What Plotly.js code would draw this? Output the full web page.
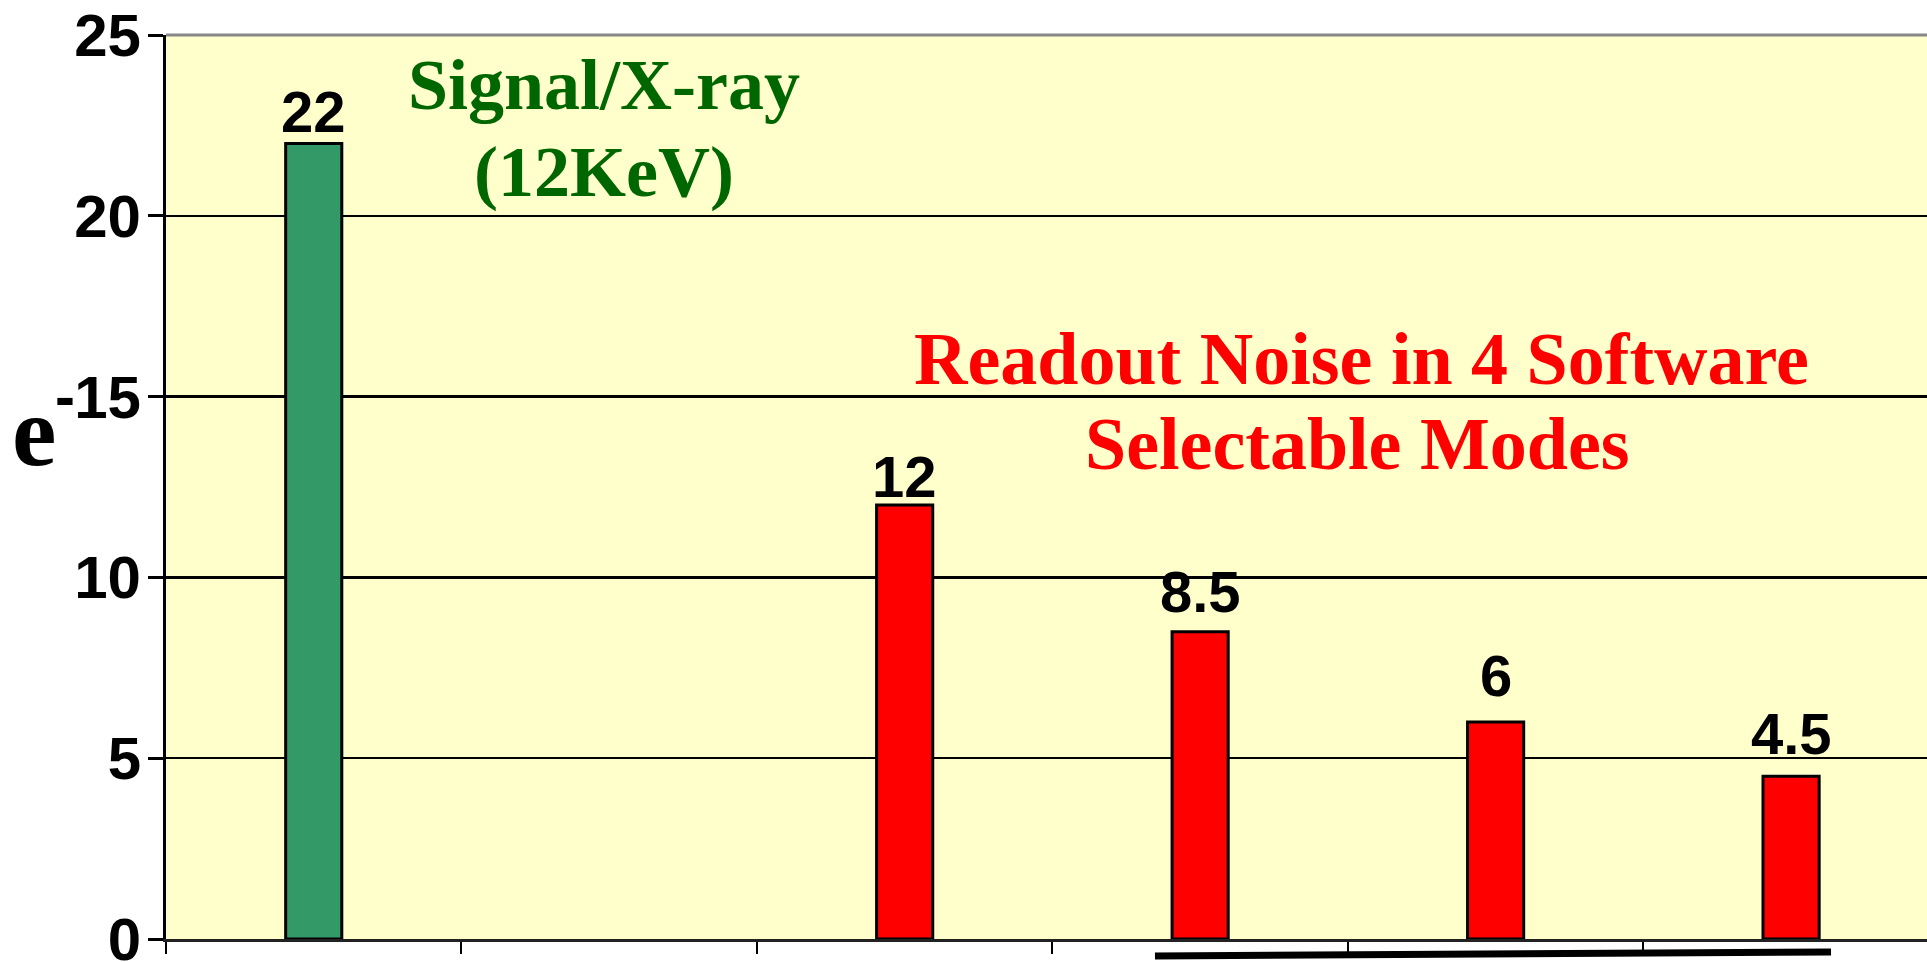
<!DOCTYPE html>
<html>
<head>
<meta charset="utf-8">
<script src="https://cdn.plot.ly/plotly-3.0.1.min.js"></script>
<style>html,body{margin:0;padding:0;background:#fff;}#chart{width:1927px;height:962px;}</style>
</head>
<body>
<div id="chart"></div>
<script>
// Data
const categories = ["Signal/X-ray (12KeV)", "(gap)", "Mode 1", "Mode 2", "Mode 3", "Mode 4"];
const values = [22, null, 12, 8.5, 6, 4.5];
const barColors = ["#339966", "#FF0000", "#FF0000", "#FF0000", "#FF0000", "#FF0000"];
const yTicks = [0, 5, 10, 15, 20, 25];
const signalLabel = ["Signal/X-ray", "(12KeV)"];
const noiseLabel = ["Readout Noise in 4 Software", "Selectable Modes"];
const yTitle = "e";
const yTitleSup = "-";

// Styling: small vertical nudges (px) of each value label, as placed in the original
const labelNudge = [-3, 0, -6, 6, 12, 8];

const sans = "Arial, 'Liberation Sans', sans-serif";
const serif = "'Times New Roman', 'Liberation Serif', serif";

const trace = {
  type: "bar",
  x: categories,
  y: values,
  width: 0.19,
  marker: {color: barColors, line: {color: "#000", width: 3}},
  cliponaxis: false,
  hoverinfo: "none"
};

const valueAnnotations = [];
categories.forEach((c, i) => {
  if (values[i] === null) return;
  valueAnnotations.push({
    text: String(values[i]), xref: "x", yref: "y", x: c, y: values[i],
    xanchor: "center", yanchor: "bottom", yshift: labelNudge[i], showarrow: false,
    font: {family: sans, size: 58, color: "#000", weight: "bold"}
  });
});

const layout = {
  width: 1927, height: 962,
  margin: {l: 166, r: 0, t: 35, b: 23, pad: 0},
  paper_bgcolor: "#FFFFFF",
  plot_bgcolor: "#FFFFCC",
  showlegend: false,
  bargap: 0,
  xaxis: {
    type: "category",
    categoryorder: "array",
    categoryarray: categories,
    range: [-0.5, 5.46],
    showticklabels: false,
    showgrid: false,
    zeroline: false,
    showline: true, linecolor: "#222", linewidth: 3,
    ticks: "outside", tickson: "boundaries", ticklen: 12, tickwidth: 2, tickcolor: "#000",
    fixedrange: true
  },
  yaxis: {
    range: [0, 25],
    tickvals: yTicks,
    ticktext: yTicks.map(String),
    showgrid: true, gridcolor: "#000", gridwidth: 2.5,
    zeroline: false,
    showline: true, linecolor: "#000", linewidth: 3,
    ticks: "outside", ticklen: 15, tickwidth: 3, tickcolor: "#000",
    ticklabelstandoff: -5,
    ticklabeloverflow: "allow",
    tickfont: {family: sans, size: 60, color: "#000", weight: "bold"},
    fixedrange: true
  },
  shapes: [
    {type: "line", xref: "paper", yref: "paper", x0: 0, x1: 1, y0: 1, y1: 1,
     line: {color: "#888888", width: 3}, layer: "above"},
    {type: "line", xref: "paper", yref: "paper", x0: 0.5616, x1: 0.9455, y0: -0.0188, y1: -0.0144,
     line: {color: "#000", width: 7}, layer: "above"}
  ],
  annotations: valueAnnotations.concat([
    {text: signalLabel[0], xref: "paper", yref: "paper", x: 0.2487, y: 0.9445, xanchor: "center", yanchor: "middle",
     showarrow: false, font: {family: serif, size: 72, color: "#006600", weight: "bold"}},
    {text: signalLabel[1], xref: "paper", yref: "paper", x: 0.2487, y: 0.849, xanchor: "center", yanchor: "middle",
     showarrow: false, font: {family: serif, size: 72, color: "#006600", weight: "bold"}},
    {text: noiseLabel[0], xref: "paper", yref: "paper", x: 0.679, y: 0.642, xanchor: "center", yanchor: "middle",
     showarrow: false, font: {family: serif, size: 74, color: "#FF0000", weight: "bold"}},
    {text: noiseLabel[1], xref: "paper", yref: "paper", x: 0.6766, y: 0.548, xanchor: "center", yanchor: "middle",
     showarrow: false, font: {family: serif, size: 74, color: "#FF0000", weight: "bold"}},
    {text: yTitle, xref: "paper", yref: "paper", x: 0, y: 0.561, xshift: -132, xanchor: "center", yanchor: "middle",
     showarrow: false, font: {family: serif, size: 100, color: "#000", weight: "bold"}},
    {text: yTitleSup, xref: "paper", yref: "paper", x: 0, y: 0.5997, xshift: -101, xanchor: "center", yanchor: "middle",
     showarrow: false, font: {family: sans, size: 60, color: "#000", weight: "bold"}}
  ])
};

Plotly.newPlot("chart", [trace], layout, {displayModeBar: false, staticPlot: true});
</script>
</body>
</html>
